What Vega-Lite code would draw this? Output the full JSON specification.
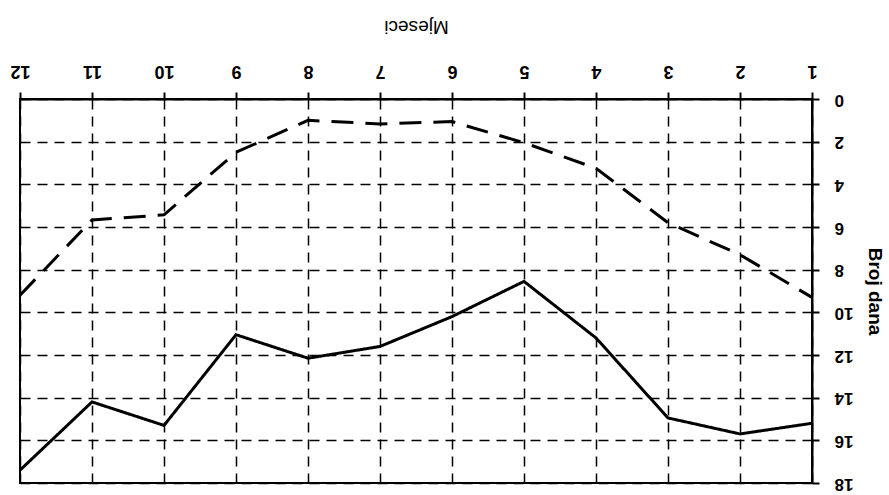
{
  "$schema": "https://vega.github.io/schema/vega-lite/v6.json",
  "autosize": {"type": "none"},
  "padding": {"left": 20, "top": 99, "right": 77, "bottom": 12},
  "width": 792,
  "height": 384,
  "background": "white",
  "config": {
    "view": {"stroke": "black", "strokeWidth": 2},
    "font": "Liberation Sans"
  },
  "data": {
    "values": [
      {"mjesec": 1, "dana": 15.2, "serija": "A"},
      {"mjesec": 2, "dana": 15.7, "serija": "A"},
      {"mjesec": 3, "dana": 14.95, "serija": "A"},
      {"mjesec": 4, "dana": 11.2, "serija": "A"},
      {"mjesec": 5, "dana": 8.55, "serija": "A"},
      {"mjesec": 6, "dana": 10.2, "serija": "A"},
      {"mjesec": 7, "dana": 11.6, "serija": "A"},
      {"mjesec": 8, "dana": 12.15, "serija": "A"},
      {"mjesec": 9, "dana": 11.05, "serija": "A"},
      {"mjesec": 10, "dana": 15.3, "serija": "A"},
      {"mjesec": 11, "dana": 14.2, "serija": "A"},
      {"mjesec": 12, "dana": 17.4, "serija": "A"},
      {"mjesec": 1, "dana": 9.3, "serija": "B"},
      {"mjesec": 2, "dana": 7.3, "serija": "B"},
      {"mjesec": 3, "dana": 5.8, "serija": "B"},
      {"mjesec": 4, "dana": 3.25, "serija": "B"},
      {"mjesec": 5, "dana": 2.05, "serija": "B"},
      {"mjesec": 6, "dana": 1.06, "serija": "B"},
      {"mjesec": 7, "dana": 1.17, "serija": "B"},
      {"mjesec": 8, "dana": 1.0, "serija": "B"},
      {"mjesec": 9, "dana": 2.5, "serija": "B"},
      {"mjesec": 10, "dana": 5.43, "serija": "B"},
      {"mjesec": 11, "dana": 5.67, "serija": "B"},
      {"mjesec": 12, "dana": 9.2, "serija": "B"}
    ]
  },
  "mark": {"type": "line", "color": "black", "strokeWidth": 3},
  "encoding": {
    "x": {
      "field": "mjesec",
      "type": "quantitative",
      "scale": {"domain": [1, 12], "reverse": true, "nice": false, "zero": false},
      "axis": {
        "orient": "top",
        "title": "Mjeseci",
        "values": [1, 2, 3, 4, 5, 6, 7, 8, 9, 10, 11, 12],
        "labelAngle": 180,
        "labelAlign": "center",
        "labelBaseline": "top",
        "labelFontSize": 18,
        "labelFontWeight": "bold",
        "labelColor": "black",
        "labelPadding": 13,
        "tickSize": 7,
        "tickWidth": 2,
        "tickColor": "black",
        "domainColor": "black",
        "domainWidth": 2,
        "titleAngle": 180,
        "titleBaseline": "top",
        "titleFontSize": 19,
        "titleFontWeight": "normal",
        "titleColor": "black",
        "titlePadding": 26,
        "grid": true,
        "gridColor": "black",
        "gridWidth": 1.5,
        "gridDash": [10, 7],
        "gridOpacity": 1
      }
    },
    "y": {
      "field": "dana",
      "type": "quantitative",
      "scale": {"domain": [0, 18], "reverse": true, "nice": false},
      "axis": {
        "orient": "right",
        "title": "Broj dana",
        "values": [0, 2, 4, 6, 8, 10, 12, 14, 16, 18],
        "labelAngle": 180,
        "labelAlign": "right",
        "labelBaseline": "middle",
        "labelFontSize": 17,
        "labelFontWeight": "bold",
        "labelColor": "black",
        "labelPadding": 15,
        "tickSize": 7,
        "tickWidth": 2,
        "tickColor": "black",
        "domainColor": "black",
        "domainWidth": 2,
        "titleAngle": 90,
        "titleFontSize": 19,
        "titleFontWeight": "bold",
        "titleColor": "black",
        "titlePadding": 12,
        "grid": true,
        "gridColor": "black",
        "gridWidth": 1.5,
        "gridDash": [10, 7],
        "gridOpacity": 1
      }
    },
    "detail": {"field": "serija", "type": "nominal"},
    "strokeDash": {
      "field": "serija",
      "type": "nominal",
      "scale": {"domain": ["A", "B"], "range": [[1, 0], [22, 12]]},
      "legend": null
    }
  }
}
